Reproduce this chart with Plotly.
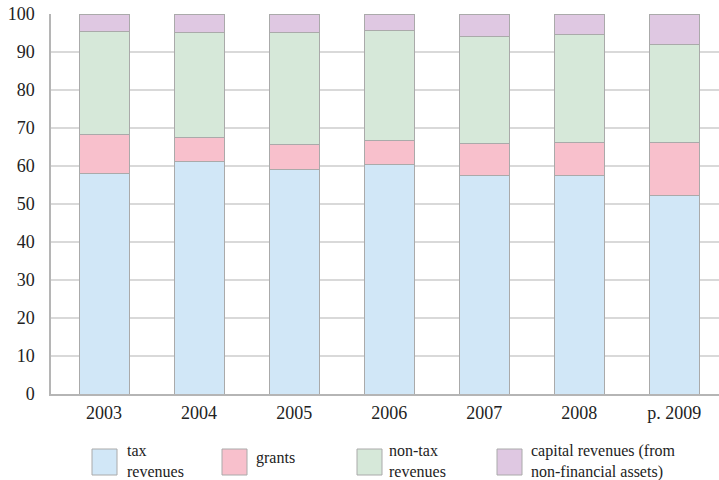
import plotly.graph_objects as go

years = ["2003", "2004", "2005", "2006", "2007", "2008", "p. 2009"]
tax_revenues = [58.0, 61.3, 59.1, 60.5, 57.6, 57.5, 52.3]
grants = [10.2, 6.2, 6.6, 6.2, 8.4, 8.8, 14.0]
non_tax_revenues = [27.1, 27.7, 29.4, 29.0, 28.0, 28.2, 25.6]
capital_revenues = [4.7, 4.8, 4.9, 4.3, 6.0, 5.5, 8.1]

series = [
    ("tax<br>revenues", tax_revenues, "#d1e7f7"),
    ("grants", grants, "#f8c0cc"),
    ("non-tax<br>revenues", non_tax_revenues, "#d6e8d9"),
    ("capital revenues (from<br>non-financial assets)", capital_revenues, "#dfc8e2"),
]

FONT = "Liberation Serif"
fig = go.Figure()
for name, vals, col in series:
    fig.add_trace(go.Bar(x=years, y=vals, name=name.replace("<br>", " "),
                         marker=dict(color=col, line=dict(color="#aaaaaa", width=1)),
                         width=0.526))

W, H = 719, 480
ml, mr, mt, mb = 51, 0, 14, 86
pw, ph = W - ml - mr, H - mt - mb

fig.update_layout(
    width=W, height=H, barmode="stack", showlegend=False,
    margin=dict(l=ml, r=mr, t=mt, b=mb),
    paper_bgcolor="white", plot_bgcolor="white",
    font=dict(family=FONT, size=18, color="#222222"),
    xaxis=dict(type="category", range=[-0.558, 6.47], showgrid=False, showline=True,
               linecolor="#b5b5b5", linewidth=1.5, ticks="", ticklabelstandoff=2, automargin=False),
    yaxis=dict(range=[0, 100], dtick=10, showgrid=True, gridcolor="#d9d9d9", gridwidth=1.5,
               showline=True, linecolor="#b5b5b5", linewidth=1.5, zeroline=False, ticks="",
               ticklabelstandoff=11, automargin=False),
)

def px2x(px):
    return (px - ml) / pw

def px2y(py):
    return (H - mb - py) / ph

legend_items = [(92, 126), (222, 255), (357, 388), (497, 530)]
for (sx, tx), (name, vals, col) in zip(legend_items, series):
    fig.add_shape(type="rect", xref="paper", yref="paper",
                  x0=px2x(sx), x1=px2x(sx + 25), y0=px2y(475), y1=px2y(449),
                  fillcolor=col, line=dict(color="#aaaaaa", width=1))
    fig.add_annotation(xref="paper", yref="paper", x=px2x(tx), y=px2y(461 if "<br>" in name else 458),
                       text=name, showarrow=False, xanchor="left", yanchor="middle", align="left",
                       borderpad=0, font=dict(family=FONT, size=16, color="#222222"))

fig.write_html("out.html", config={"displayModeBar": False},
               post_script="document.body.style.margin='0';document.body.style.padding='0';document.body.style.overflow='hidden';")
